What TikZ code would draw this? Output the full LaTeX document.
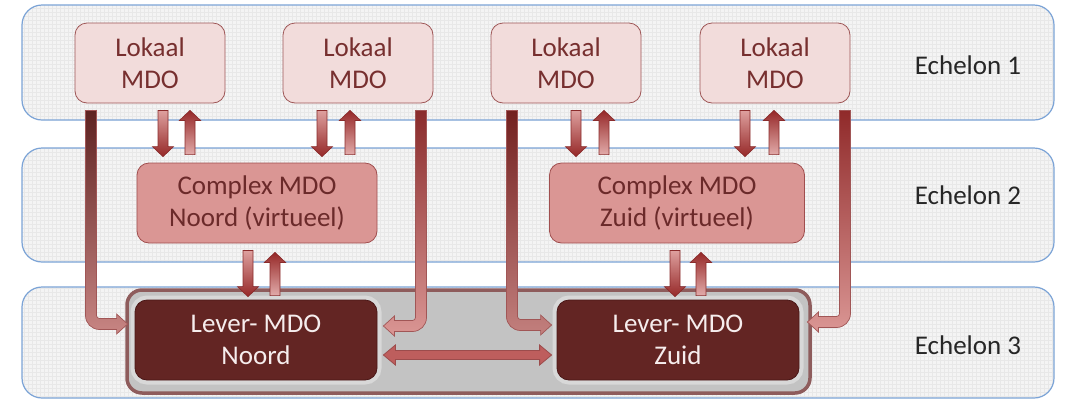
\documentclass[tikz,border=0pt]{standalone}
\usepackage{fontspec}
\setmainfont{Carlito}
\usetikzlibrary{calc}

\definecolor{bandfill}{HTML}{F4F4F4}
\definecolor{bandgrid}{HTML}{E8E8E8}
\definecolor{bandline}{HTML}{7BA3D6}
\definecolor{lokfill}{HTML}{F2DCDB}
\definecolor{lokline}{HTML}{9E5656}
\definecolor{loktext}{HTML}{772F2F}
\definecolor{cpxfill}{HTML}{DA9694}
\definecolor{cpxline}{HTML}{A04E4E}
\definecolor{cpxtext}{HTML}{6B2A2A}
\definecolor{levfill}{HTML}{632523}
\definecolor{levline}{HTML}{4A1717}
\definecolor{levtext}{HTML}{F6EDED}
\definecolor{halo}{HTML}{D8D8D8}
\definecolor{contfill}{HTML}{C3C3C3}
\definecolor{contline}{HTML}{8E5C5C}
\definecolor{arline}{HTML}{8A2C2C}
\definecolor{dbledge}{HTML}{BE5E5D}
\definecolor{dblmid}{HTML}{EAADAB}
\definecolor{echtext}{HTML}{262626}

% vertical block arrow pointing down: #1 top colour, #2 bottom colour, #3 start, #4 tip
\newcommand\blkdown[4]{%
  \shade[smallarrow, top color=#1, bottom color=#2] let \p1=(#3), \p2=(#4) in
    (\x1-5pt,\y1) -- (\x1-5pt,\y2+10pt) -- (\x1-10.5pt,\y2+10pt) -- (\x1,\y2)
    -- (\x1+10.5pt,\y2+10pt) -- (\x1+5pt,\y2+10pt) -- (\x1+5pt,\y1) -- cycle;}
% vertical block arrow pointing up
\newcommand\blkup[4]{%
  \shade[smallarrow, top color=#1, bottom color=#2] let \p1=(#3), \p2=(#4) in
    (\x1-5pt,\y1) -- (\x1-5pt,\y2-10pt) -- (\x1-10.5pt,\y2-10pt) -- (\x1,\y2)
    -- (\x1+10.5pt,\y2-10pt) -- (\x1+5pt,\y2-10pt) -- (\x1+5pt,\y1) -- cycle;}
% bent block arrow: down, then right to the tip
\newcommand\blkbentright[4]{%
  \shade[bigarrow, top color=#1, bottom color=#2] let \p1=(#3), \p2=(#4) in
    (\x1-5.5pt,\y1) -- (\x1-5.5pt,\y2+8.5pt) arc[start angle=180,end angle=270,radius=14pt]
    -- (\x2-11pt,\y2-5.5pt) -- (\x2-11pt,\y2-10pt) -- (\x2,\y2) -- (\x2-11pt,\y2+10pt)
    -- (\x2-11pt,\y2+5.5pt) -- (\x1+8.5pt,\y2+5.5pt) arc[start angle=270,end angle=180,radius=3pt]
    -- (\x1+5.5pt,\y1) -- cycle;}
% bent block arrow: down, then left to the tip
\newcommand\blkbentleft[4]{%
  \shade[bigarrow, top color=#1, bottom color=#2] let \p1=(#3), \p2=(#4) in
    (\x1+5.5pt,\y1) -- (\x1+5.5pt,\y2+8.5pt) arc[start angle=0,end angle=-90,radius=14pt]
    -- (\x2+11pt,\y2-5.5pt) -- (\x2+11pt,\y2-10pt) -- (\x2,\y2) -- (\x2+11pt,\y2+10pt)
    -- (\x2+11pt,\y2+5.5pt) -- (\x1-8.5pt,\y2+5.5pt) arc[start angle=-90,end angle=0,radius=3pt]
    -- (\x1-5.5pt,\y1) -- cycle;}
% horizontal block arrow with heads at both ends
\newcommand\blkdouble[2]{%
  \shade[draw=arline!85!white, line width=0.8pt, top color=dbledge, middle color=dblmid, bottom color=dbledge]
    let \p1=(#1), \p2=(#2) in
    (\x1,\y1) -- (\x1+12pt,\y1+10pt) -- (\x1+12pt,\y1+4.5pt) -- (\x2-12pt,\y1+4.5pt)
    -- (\x2-12pt,\y1+10pt) -- (\x2,\y1) -- (\x2-12pt,\y1-10pt) -- (\x2-12pt,\y1-4.5pt)
    -- (\x1+12pt,\y1-4.5pt) -- (\x1+12pt,\y1-10pt) -- cycle;}

\begin{document}
\begin{tikzpicture}[x=1pt,y=-1pt,
  band/.style={draw=bandline, line width=1.2pt, rounded corners=20pt},
  bandtex/.style={draw=bandgrid, line width=0.3pt},
  box/.style={rounded corners=12pt, align=center, inner sep=0pt,
    minimum height=80pt, font=\fontsize{27}{32}\selectfont},
  lokaal/.style={box, fill=lokfill, draw=lokline, line width=0.8pt, text=loktext, minimum width=150pt},
  complex/.style={box, fill=cpxfill, draw=cpxline, line width=0.8pt, text=cpxtext, minimum width=240pt},
  lever/.style={box, fill=levfill, draw=levline, line width=0.8pt, text=levtext, minimum width=242pt,
    preaction={draw=halo, line width=9pt}},
  echelon/.style={text=echtext, font=\fontsize{27}{32}\selectfont},
  smallarrow/.style={draw=arline, line width=0.7pt},
  bigarrow/.style={draw=arline!80!white, line width=0.7pt},
]
\useasboundingbox (0,0) rectangle (1066,400);

% three echelon bands with a fine woven texture
\foreach \ya/\yb in {5/120, 148/262, 287/398} {
  \fill[bandfill, rounded corners=20pt] (22,\ya) rectangle (1054,\yb);
  \begin{scope}
    \clip[rounded corners=20pt] (22,\ya) rectangle (1054,\yb);
    \draw[bandtex, step=4pt] (22,\ya) grid (1054,\yb);
  \end{scope}
  \draw[band] (22,\ya) rectangle (1054,\yb);
}

% grey container round both Lever-MDO boxes
\draw[fill=contfill, draw=contline, line width=3.5pt, rounded corners=15pt] (127,290) rectangle (810,393);

% echelon 1
\node[lokaal] (l1) at (150,63) {Lokaal\\MDO};
\node[lokaal] (l2) at (358,63) {Lokaal\\MDO};
\node[lokaal] (l3) at (566,63) {Lokaal\\MDO};
\node[lokaal] (l4) at (775,63) {Lokaal\\MDO};
\node[echelon] (e1) at (968,65) {Echelon 1};

% echelon 2
\node[complex] (c1) at (257,203) {Complex MDO\\Noord (virtueel)};
\node[complex, minimum width=255pt] (c2) at (677,203) {Complex MDO\\Zuid (virtueel)};
\node[echelon] (e2) at (968,195) {Echelon 2};

% echelon 3
\node[lever] (v1) at (256,340) {Lever- MDO\\Noord};
\node[lever] (v2) at (678,340) {Lever- MDO\\Zuid};
\node[echelon] (e3) at (968,345) {Echelon 3};

% Lokaal <-> Complex
\blkdown{cpxfill!90!white}{arline!90!red}{$(l1.south)+(13,7)$}{$(c1.north)+(0,-6)$}
\blkup{arline!90!red}{cpxfill!80!white}{$(c1.north)+(-67,-8)$}{$(l1.south)+(0,7)$}
\blkdown{cpxfill!90!white}{arline!90!red}{$(l2.south)+(-36,7)$}{$(c1.north)+(0,-6)$}
\blkup{arline!90!red}{cpxfill!80!white}{$(c1.north)+(93,-8)$}{$(l2.south)+(0,7)$}
\blkdown{cpxfill!90!white}{arline!90!red}{$(l3.south)+(10,7)$}{$(c2.north)+(0,-6)$}
\blkup{arline!90!red}{cpxfill!80!white}{$(c2.north)+(-73,-8)$}{$(l3.south)+(0,7)$}
\blkdown{cpxfill!90!white}{arline!90!red}{$(l4.south)+(-30,7)$}{$(c2.north)+(0,-6)$}
\blkup{arline!90!red}{cpxfill!80!white}{$(c2.north)+(97,-8)$}{$(l4.south)+(0,7)$}

% Complex <-> Lever
\blkdown{cpxfill!90!white}{arline!90!red}{$(c1.south)+(-9,7)$}{$(v1.north)+(0,-3)$}
\blkup{arline!90!red}{cpxfill!80!white}{$(v1.north)+(19,-4)$}{$(c1.south)+(0,9)$}
\blkdown{cpxfill!90!white}{arline!90!red}{$(c2.south)+(-2,7)$}{$(v2.north)+(0,-3)$}
\blkup{arline!90!red}{cpxfill!80!white}{$(v2.north)+(23,-4)$}{$(c2.south)+(0,9)$}

% Lokaal -> Lever, bypassing Complex
\blkbentright{levfill!95!black}{cpxfill!85!levfill}{$(l1.south)+(-59,7)$}{$(v1.west)+(-7,-16)$}
\blkbentleft{arline}{cpxfill}{$(l2.south)+(63,7)$}{$(v1.east)+(6,-14)$}
\blkbentright{levfill!90!red}{cpxfill!80!levfill}{$(l3.south)+(-54,7)$}{$(v2.west)+(-5,-15)$}
\blkbentleft{arline!95!red}{cpxfill}{$(l4.south)+(70,7)$}{$(v2.east)+(8,-18)$}

% Lever Noord <-> Lever Zuid
\blkdouble{$(v1.east)+(6,15)$}{$(v2.west)+(-5,15)$}
\end{tikzpicture}
\end{document}
